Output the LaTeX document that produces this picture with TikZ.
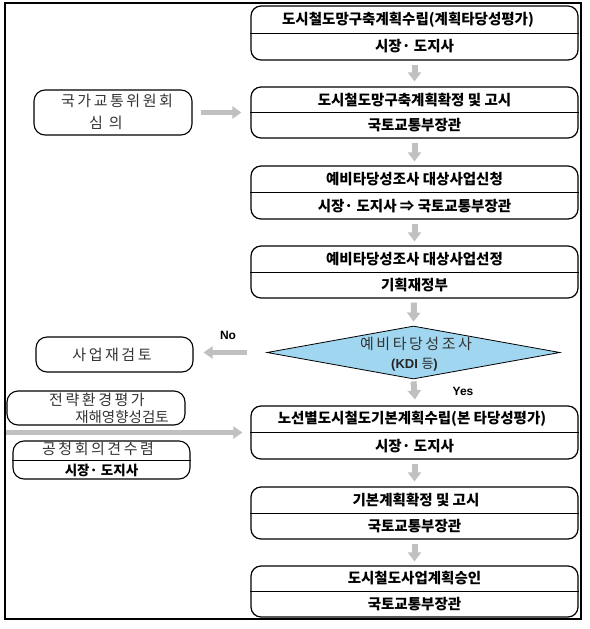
\documentclass[tikz,border=0pt]{standalone}
\usepackage{fontspec}
\setmainfont{Liberation Sans}
\newfontfamily\kr{Noto Sans CJK KR}
\newfontfamily\krsp{Noto Sans CJK KR}[LetterSpace=17]
\newfontfamily\krtight{Noto Sans CJK KR}[LetterSpace=0]
\usetikzlibrary{arrows.meta,shapes.geometric}
\definecolor{arrowgray}{RGB}{192,192,192}
\definecolor{diafill}{RGB}{160,214,240}
\tikzset{
  mainbox/.style={draw=black, line width=1.2pt, rounded corners=10pt, minimum width=327pt, inner sep=0pt},
  sidebox/.style={draw=black, line width=1.1pt, rounded corners=11pt, inner sep=0pt},
  maintext/.style={font=\kr\bfseries\fontsize{14.5pt}{16pt}\selectfont, inner sep=0pt},
  sidetext/.style={font=\krsp\fontsize{15pt}{17pt}\selectfont, text=black!80, inner sep=0pt},
  tighttext/.style={font=\krtight\fontsize{14.5pt}{16pt}\selectfont, text=black!80, inner sep=0pt},
  sidebold/.style={font=\kr\bfseries\fontsize{13.5pt}{15pt}\selectfont, inner sep=0pt},
  flow/.style={draw=arrowgray, line width=6pt, -{Triangle[width=13pt,length=9pt]}},
  hflow/.style={draw=arrowgray, line width=5.5pt, -{Triangle[width=12pt,length=9pt]}},
  divider/.style={draw=black, line width=1pt},
  yesno/.style={font=\bfseries\fontsize{12pt}{14pt}\selectfont, inner sep=0pt},
  decision/.style={diamond, draw=black, line width=0.8pt, fill=diafill, aspect=5.5, minimum width=293pt, minimum height=53pt, inner sep=0pt}
}
\begin{document}
\begin{tikzpicture}[x=1pt,y=-1pt]
\useasboundingbox (0,0) rectangle (589,629);
\fill[white] (0,0) rectangle (589,629);
\draw[line width=2pt] (5,3) rectangle (580.5,619);

% main column boxes
\node[mainbox, minimum height=54pt] (b1) at (414.5,33) {};
\node[mainbox, minimum height=51pt] (b2) at (414.5,112.5) {};
\node[mainbox, minimum height=53pt] (b3) at (414.5,192.5) {};
\node[mainbox, minimum height=52pt] (b4) at (414.5,272) {};
\node[decision] (d) at (413.5,352.5) {};
\node[mainbox, minimum height=53pt] (b5) at (414.5,432.5) {};
\node[mainbox, minimum height=52pt] (b6) at (414.5,513) {};
\node[mainbox, minimum height=51pt] (b7) at (414.5,591.5) {};

\foreach \b in {b1,b2,b3,b4,b5,b6,b7}{\draw[divider] (\b.west) -- (\b.east);}

\node[maintext] (t1a) at (408,19.5) {도시철도망구축계획수립(계획타당성평가)};
\node[maintext] (t1b) at (414.5,46.5) {시장· 도지사};
\node[maintext] (t2a) at (414.5,100) {도시철도망구축계획확정 및 고시};
\node[maintext] (t2b) at (414.5,125.5) {국토교통부장관};
\node[maintext] (t3a) at (414.5,179.5) {예비타당성조사 대상사업신청};
\node[maintext] (t3b) at (414.5,206) {시장· 도지사 ⇒ 국토교통부장관};
\node[maintext] (t4a) at (414.5,259) {예비타당성조사 대상사업선정};
\node[maintext] (t4b) at (414.5,285) {기획재정부};
\node[sidetext] (td1) at (416,343.5) {예비타당성조사};
\node[yesno, font=\bfseries\fontsize{13pt}{15pt}\selectfont, text=black!85] (td2) at (414.5,365) {(KDI {\kr\mdseries 등})};
\node[maintext] (t5a) at (412,419) {노선별도시철도기본계획수립(본 타당성평가)};
\node[maintext] (t5b) at (414.5,446) {시장· 도지사};
\node[maintext] (t6a) at (416,500) {기본계획확정 및 고시};
\node[maintext] (t6b) at (414.5,526.5) {국토교통부장관};
\node[maintext] (t7a) at (414.5,578.5) {도시철도사업계획승인};
\node[maintext] (t7b) at (414.5,604.5) {국토교통부장관};

% side boxes
\node[sidebox, minimum width=158pt, minimum height=45pt] (s1) at (113,112.5) {};
\node[sidetext] (s1a) at (117,100.5) {국가교통위원회};
\node[sidetext] (s1b) at (106,122.5) {심 의};
\node[sidebox, minimum width=157pt, minimum height=35pt] (s2) at (114.5,354.5) {};
\node[sidetext] (s2a) at (112,354.5) {사업재검토};
\node[sidebox, minimum width=178pt, minimum height=34pt] (s3) at (96,408) {};
\node[sidetext] (s3a) at (97,400) {전략환경평가};
\node[tighttext] (s3b) at (122,417) {재해영향성검토};
\node[sidebox, minimum width=177pt, minimum height=38pt] (s4) at (101.5,460) {};
\draw[divider] (s4.west) -- (s4.east);
\node[sidetext] (s4a) at (98,449) {공청회의견수렴};
\node[sidebold] (s4b) at (101.5,470) {시장· 도지사};

% labels
\node[yesno] (no) at (228,335) {No};
\node[yesno] (yes) at (463,391) {Yes};

% vertical flow arrows
\draw[flow] ([yshift=-4pt]b1.south) -- ([yshift=5pt]b2.north);
\draw[flow] ([yshift=-4pt]b2.south) -- ([yshift=4pt]b3.north);
\draw[flow] ([yshift=-4pt]b3.south) -- ([yshift=4pt]b4.north);
\draw[flow] ([xshift=-0.5pt,yshift=-4pt]b4.south) -- ([yshift=4pt]d.north);
\draw[flow] ([yshift=-2pt]d.south) -- ([xshift=0.5pt,yshift=6pt]b5.north);
\draw[flow] ([yshift=-4pt]b5.south) -- ([yshift=5pt]b6.north);
\draw[flow] ([yshift=-4pt]b6.south) -- ([yshift=4pt]b7.north);

% horizontal arrows
\draw[hflow] ([xshift=8pt]s1.east) -- ([xshift=-9pt]b2.west);
\draw[hflow] ([xshift=-20pt]d.west) -- ([xshift=10pt]s2.east |- d.west);
\coordinate (lstart) at (6,432.5);
\draw[hflow] (lstart) -- ([xshift=-8pt]b5.west);
\end{tikzpicture}
\end{document}
